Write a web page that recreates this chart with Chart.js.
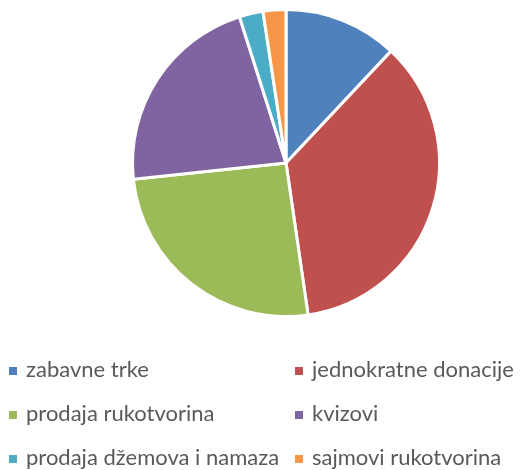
<!DOCTYPE html>
<html>
<head>
<meta charset="utf-8">
<script src="https://cdn.jsdelivr.net/npm/chart.js@4/dist/chart.umd.min.js"></script>
<style>
  html, body { margin: 0; padding: 0; background: #fff; }
  #wrap { width: 521px; height: 470px; }
</style>
</head>
<body>
<div id="wrap"><canvas id="chart"></canvas></div>
<script>
const labels = ["zabavne trke", "jednokratne donacije", "prodaja rukotvorina", "kvizovi", "prodaja džemova i namaza", "sajmovi rukotvorina"];
const values = [12.0, 35.7, 25.6, 21.8, 2.5, 2.4];
const colors = ['#4F81BD', '#C0504D', '#9BBB59', '#8064A2', '#4BACC6', '#F79646'];

// legend in two columns, drawn under the pie
const twoColLegend = {
    id: 'twoColLegend',
    afterDraw(chart) {
        const c = chart.ctx;
        const colX = [9, 295];
        const rowY = [370, 414, 458];
        c.save();
        c.font = '22px Lato, "Open Sans", sans-serif';
        c.textBaseline = 'middle';
        chart.data.labels.forEach((lab, i) => {
            const x = colX[i % 2];
            const y = rowY[Math.floor(i / 2)];
            c.fillStyle = chart.data.datasets[0].backgroundColor[i];
            c.fillRect(x, y - 3, 8, 8);
            c.fillStyle = '#595959';
            c.fillText(lab, x + 17, y);
        });
        c.restore();
    }
};

const ctx = document.getElementById('chart').getContext('2d');
const myChart = new Chart(ctx, {
    type: 'pie',
    data: {
        labels: labels,
        datasets: [{
            data: values,
            backgroundColor: colors,
            borderColor: '#ffffff',
            borderWidth: 3,
        }]
    },
    options: {
        responsive: true,
        maintainAspectRatio: false,
        animation: false,
        layout: {
            padding: { left: 131, right: 80, top: 7, bottom: 151 }
        },
        plugins: {
            legend: { display: false },
            tooltip: { enabled: false }
        }
    },
    plugins: [twoColLegend]
});
</script>
</body>
</html>
